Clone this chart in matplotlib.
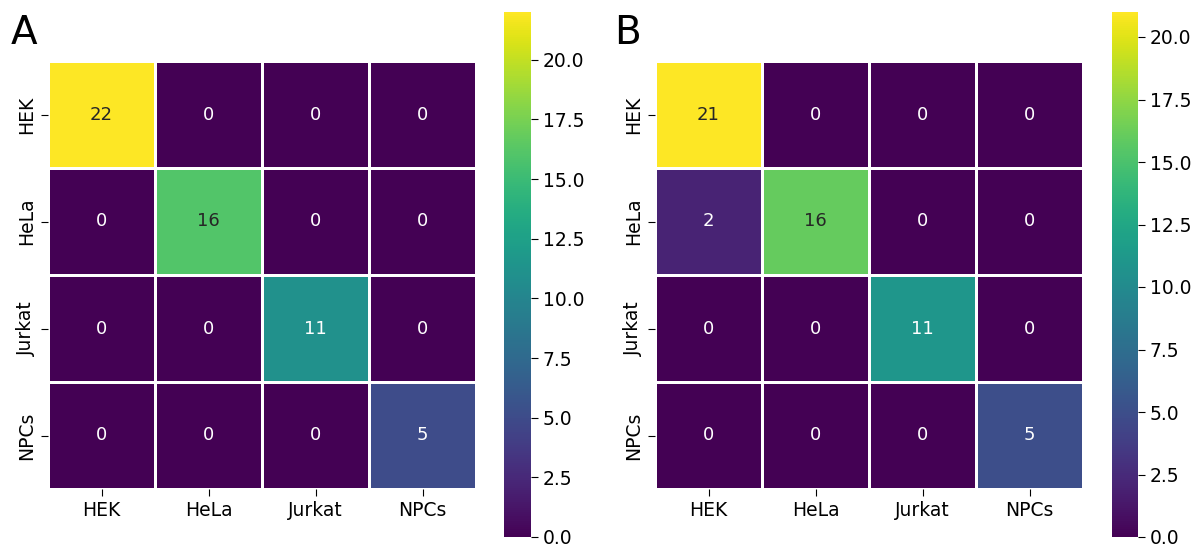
import numpy as np
import matplotlib
matplotlib.use("Agg")
import matplotlib.pyplot as plt
import seaborn as sns

LABELS = ["HEK", "HeLa", "Jurkat", "NPCs"]
COUNTS_A = [
    [22, 0, 0, 0],
    [0, 16, 0, 0],
    [0, 0, 11, 0],
    [0, 0, 0, 5],
]
COUNTS_B = [
    [21, 0, 0, 0],
    [2, 16, 0, 0],
    [0, 0, 11, 0],
    [0, 0, 0, 5],
]

W, H = 1198, 547


def px_box(x0, y0, x1, y1):
    """Convert a pixel box (top-left origin) to figure fractions."""
    return [x0 / W, 1 - y1 / H, (x1 - x0) / W, (y1 - y0) / H]


def draw_matrix(fig, counts, heat_box, cbar_box, letter, letter_x):
    ax = fig.add_axes(px_box(*heat_box))
    cax = fig.add_axes(px_box(*cbar_box))
    sns.heatmap(
        np.array(counts),
        ax=ax,
        cbar_ax=cax,
        cmap="viridis",
        annot=True,
        fmt="d",
        annot_kws={"fontsize": 13},
        linewidths=1.8,
        linecolor="white",
        xticklabels=LABELS,
        yticklabels=LABELS,
    )
    ax.tick_params(labelsize=13.5, length=5)
    plt.setp(ax.get_yticklabels(), rotation=90, va="center")
    plt.setp(ax.get_xticklabels(), rotation=0)
    cax.tick_params(labelsize=13.5, length=5)
    cax.set_yticks(np.arange(0, 21, 2.5))
    cax.set_yticklabels([f"{v:.1f}" for v in np.arange(0, 21, 2.5)])
    fig.text(letter_x / W, 1 - 14 / H, letter, fontsize=28, va="top", ha="left")


def main() -> None:
    fig = plt.figure(figsize=(W / 100, H / 100), dpi=100)
    draw_matrix(fig, COUNTS_A, (48, 61, 476, 489), (504, 12, 531, 537), "A", 11)
    draw_matrix(fig, COUNTS_B, (655, 61, 1083, 489), (1112, 12, 1138, 537), "B", 614)
    fig.savefig("out.png", dpi=100)
    plt.close(fig)


if __name__ == "__main__":
    main()
